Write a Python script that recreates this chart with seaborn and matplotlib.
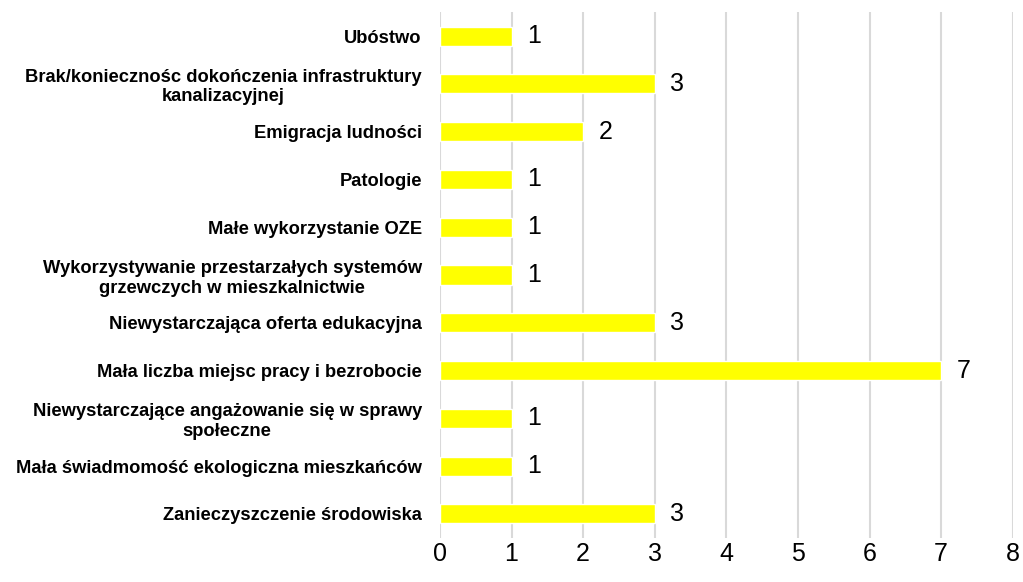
import matplotlib
matplotlib.use('Agg')
import matplotlib.pyplot as plt
import seaborn as sns
import pandas as pd

# dane z wykresu (od góry do dołu)
problemy = [
    'Ubóstwo',
    'Brak/koniecznośc dokończenia infrastruktury\nkanalizacyjnej',
    'Emigracja ludności',
    'Patologie',
    'Małe wykorzystanie OZE',
    'Wykorzystywanie przestarzałych systemów\ngrzewczych w mieszkalnictwie',
    'Niewystarczająca oferta edukacyjna',
    'Mała liczba miejsc pracy i bezrobocie',
    'Niewystarczające angażowanie się w sprawy\nspołeczne',
    'Mała świadmomość ekologiczna mieszkańców',
    'Zanieczyszczenie środowiska',
]
liczba = [1, 3, 2, 1, 1, 1, 3, 7, 1, 1, 3]
x_ticks = [0, 1, 2, 3, 4, 5, 6, 7, 8]

df = pd.DataFrame({'problem': problemy, 'liczba': liczba})

sns.set_style('white')
plt.rcParams['font.family'] = ['Liberation Sans', 'DejaVu Sans']
plt.rcParams['text.color'] = 'black'
plt.rcParams['xtick.color'] = 'black'
plt.rcParams['ytick.color'] = 'black'

fig = plt.figure(figsize=(10.23, 5.82), dpi=100)
ax = fig.add_axes([0.430, 0.076, 0.560, 0.903])

sns.barplot(data=df, x='liczba', y='problem', orient='h', color='#FFFF00',
            width=0.4, saturation=1, ax=ax, zorder=3)

# etykiety wartości
for i, v in enumerate(liczba):
    ax.text(v + 0.22, i, str(v), va='center', ha='left', fontsize=18, color='black')

ax.set_xlim(0, 8)
ax.set_ylim(len(problemy) - 0.5, -0.5)
ax.set_xticks(x_ticks)
ax.set_xticklabels([str(t) for t in x_ticks], fontsize=18)
ax.xaxis.grid(True, color='#D9D9D9', linewidth=1.5, zorder=0)
ax.yaxis.grid(False)
ax.set_axisbelow(True)
ax.set_xlabel('')
ax.set_ylabel('')
ax.tick_params(axis='y', length=0, pad=13, colors='black')
ax.tick_params(axis='x', length=0, pad=3, colors='black')
for lbl in ax.get_yticklabels():
    lbl.set_fontweight('bold')
    lbl.set_fontsize(13.2)
    lbl.set_multialignment('center')
for s in ax.spines.values():
    s.set_visible(False)

fig.savefig('out.png', dpi=100)
